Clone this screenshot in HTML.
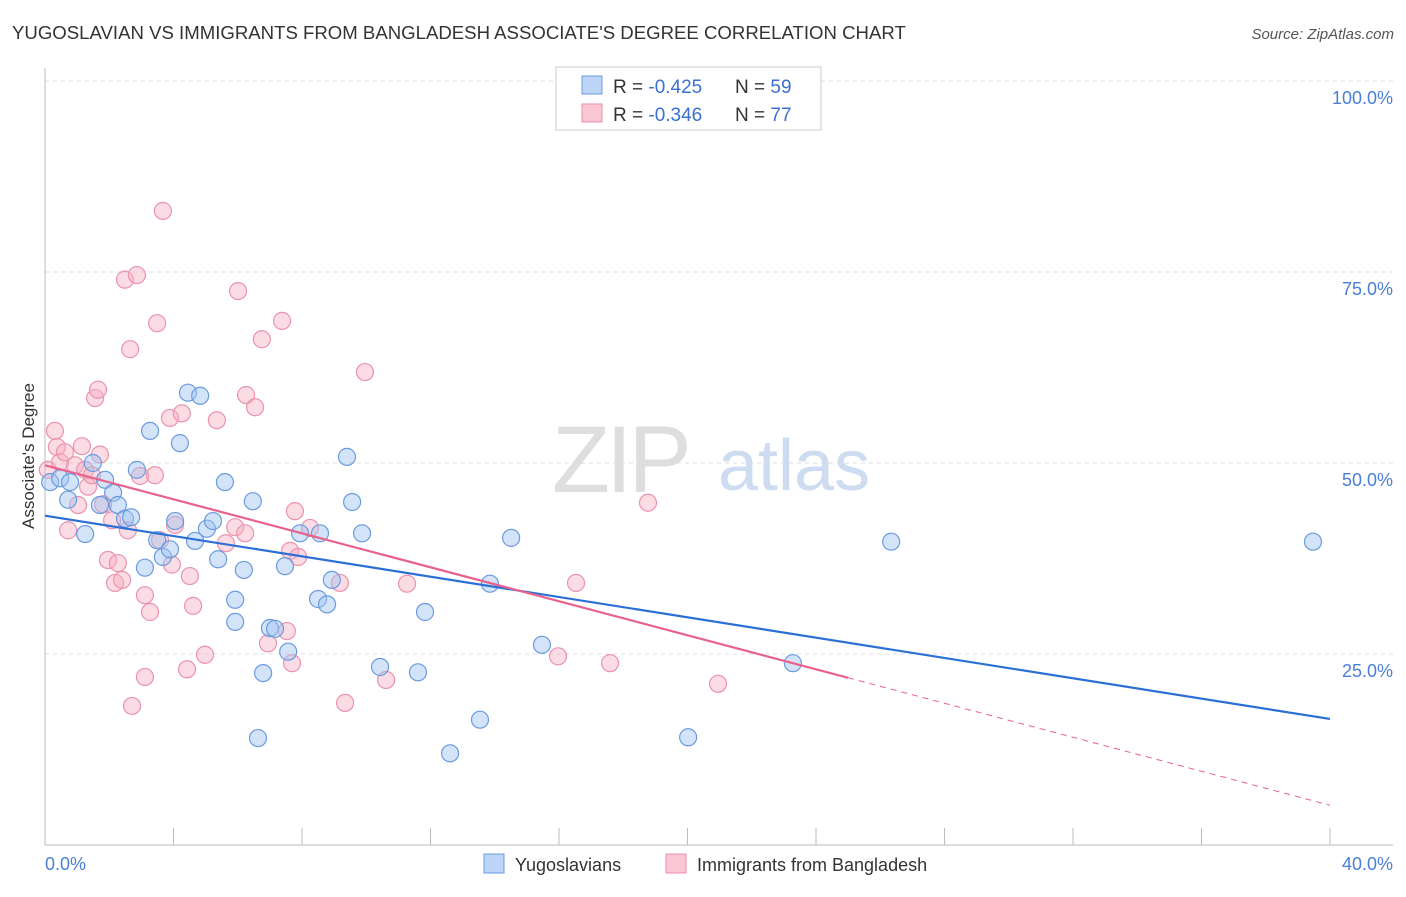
<!DOCTYPE html>
<html><head><meta charset="utf-8"><style>
body{margin:0;background:#fff;font-family:"Liberation Sans",sans-serif}
svg text{font-family:"Liberation Sans",sans-serif}
</style></head><body>
<svg id="chart" width="1406" height="892" xmlns="http://www.w3.org/2000/svg">
<text x="12" y="39" font-size="18.6" fill="#333">YUGOSLAVIAN VS IMMIGRANTS FROM BANGLADESH ASSOCIATE'S DEGREE CORRELATION CHART</text>
<text x="1394" y="39" font-size="15" fill="#555" text-anchor="end" font-style="italic">Source: ZipAtlas.com</text>
<g>
<text x="552" y="492" font-size="95" fill="#dedede" font-family="Liberation Serif" letter-spacing="-4">ZIP</text>
<text x="718" y="490" font-size="72" fill="#cddcf0">atlas</text>
</g>
<g id="grid"></g>
<g id="axes"></g>
<text transform="translate(34,456) rotate(-90)" font-size="17" fill="#333" text-anchor="middle">Associate's Degree</text>
<g id="pts"></g>
<g id="lines"></g>
<g>
<rect x="556" y="67" width="265" height="63" fill="#fff" stroke="#ccc"/>
<rect x="582" y="76" width="20" height="18" fill="#bcd4f5" stroke="#6a9be0"/>
<rect x="582" y="104" width="20" height="18" fill="#f9c6d4" stroke="#ea8fab"/>
<text x="613" y="93" font-size="19" fill="#333">R = <tspan fill="#3a70d0">-0.425</tspan></text>
<text x="735" y="93" font-size="19" fill="#333">N = <tspan fill="#3a70d0">59</tspan></text>
<text x="613" y="121" font-size="19" fill="#333">R = <tspan fill="#3a70d0">-0.346</tspan></text>
<text x="735" y="121" font-size="19" fill="#333">N = <tspan fill="#3a70d0">77</tspan></text>
</g>
<g>
<rect x="484" y="854" width="20" height="19" fill="#bcd4f5" stroke="#6a9be0"/>
<text x="515" y="871" font-size="18" fill="#333">Yugoslavians</text>
<rect x="666" y="854" width="20" height="19" fill="#f9c6d4" stroke="#ea8fab"/>
<text x="697" y="871" font-size="18" fill="#333">Immigrants from Bangladesh</text>
</g>
</svg>
<script>
const yTicks=[25,50,75,100];
const yTickLabels=["25.0%","50.0%","75.0%","100.0%"];
const xTickLabels=["0.0%","40.0%"];
const blueX=[0.16,0.47,0.78,1.49,0.72,1.25,1.71,1.87,2.12,2.27,2.49,2.68,2.86,3.27,3.11,3.49,3.67,3.89,4.05,4.20,4.45,4.83,4.67,5.04,5.23,5.39,5.60,5.92,5.92,6.19,6.47,6.63,6.79,7.00,7.16,7.47,7.57,7.94,8.50,8.56,8.78,8.93,9.40,9.56,9.87,10.43,11.61,11.83,12.61,13.54,13.85,14.51,15.47,20.02,23.28,26.34,39.47];
const blueY=[47.5,48.0,47.5,50.0,45.2,40.7,44.5,47.8,46.1,44.5,42.7,42.9,49.1,54.2,36.3,39.9,37.7,38.7,42.4,52.6,59.2,58.8,39.8,41.4,42.4,37.4,47.5,32.1,29.2,36.0,45.0,14.0,22.5,28.4,28.3,36.5,25.3,40.8,32.2,40.8,31.5,34.7,50.8,44.9,40.8,23.3,22.6,30.5,12.0,16.4,34.2,40.2,26.2,14.1,23.8,39.7,39.7];
const pinkX=[0.09,0.31,0.37,0.47,0.62,0.72,0.93,1.03,1.15,1.25,1.34,1.46,1.56,1.65,1.71,1.81,1.96,2.09,2.27,2.18,2.40,2.49,2.58,2.65,2.71,2.86,2.96,3.11,3.11,3.27,3.42,3.49,3.67,3.58,3.89,3.95,4.05,4.26,4.42,4.51,4.61,4.98,5.35,5.63,5.92,6.01,6.23,6.26,6.54,6.75,6.94,7.38,7.53,7.69,7.78,7.63,7.88,8.25,9.18,9.34,9.96,10.62,11.27,15.97,16.53,17.59,18.77,20.95];
const pinkY=[49.1,54.2,52.1,50.1,51.4,41.2,49.7,44.5,52.2,49.1,46.9,48.4,58.5,59.6,51.1,44.6,37.3,42.5,36.9,34.3,34.7,74.0,41.2,64.9,18.2,74.6,48.3,32.7,22.0,30.5,48.4,68.3,83.0,39.9,55.9,36.7,41.9,56.5,23.0,35.2,31.3,24.9,55.6,39.5,41.6,72.5,40.8,58.9,57.3,66.2,26.4,68.6,28.0,23.8,43.7,38.5,37.7,41.5,34.3,18.6,61.9,21.6,34.2,24.7,34.3,23.8,44.8,21.1];
const blueTrend=[43.1,16.5];
const pinkTrend=[49.7,5.2];
const pinkSolidEnd=25;
const NS="http://www.w3.org/2000/svg";
const X=v=>45+v/40*1285, Y=v=>845-v*7.64;
function mk(p,t,a){const e=document.createElementNS(NS,t);for(const k in a)e.setAttribute(k,a[k]);p.appendChild(e);return e;}
const g=document.getElementById('grid'),ax=document.getElementById('axes');
yTicks.forEach((t,i)=>{
 const l=mk(g,'line',{x1:45,x2:1393,y1:Y(t),y2:Y(t),stroke:'#ddd','stroke-dasharray':'4,4'});
 
 
 const tx=mk(ax,'text',{x:1393,y:Y(t)+23,'font-size':18,fill:'#4a7fd4','text-anchor':'end'});
 tx.textContent=yTickLabels[i];
 
 
});
mk(ax,'line',{x1:45,x2:45,y1:68,y2:845,stroke:'#bbb'});
mk(ax,'line',{x1:45,x2:1393,y1:845,y2:845,stroke:'#bbb'});
for(let i=0;i<=10;i++){const t=mk(ax,'line',{x1:X(i*4),x2:X(i*4),y1:828,y2:845,stroke:'#bbb'});
 
 }
const xl0=mk(ax,'text',{x:45,y:870,'font-size':18,fill:'#4a7fd4'});xl0.textContent=xTickLabels[0];

const xl1=mk(ax,'text',{x:1393,y:870,'font-size':18,fill:'#4a7fd4','text-anchor':'end'});xl1.textContent=xTickLabels[1];

const pg=document.getElementById('pts');


pinkX.forEach((x,i)=>{const c=mk(pg,'circle',{cx:X(x),cy:Y(pinkY[i]),r:8.5,fill:'rgba(246,175,196,0.45)',stroke:'#eb93ae','stroke-width':1.2});
 
 });
blueX.forEach((x,i)=>{const c=mk(pg,'circle',{cx:X(x),cy:Y(blueY[i]),r:8.5,fill:'rgba(160,195,240,0.45)',stroke:'#6a9be0','stroke-width':1.2});
 
 });
const lg=document.getElementById('lines');
const py=v=>pinkTrend[0]+(pinkTrend[1]-pinkTrend[0])*v/40;
const b=mk(lg,'line',{x1:X(0),y1:Y(blueTrend[0]),x2:X(40),y2:Y(blueTrend[1]),stroke:'#2a6fd6','stroke-width':2.2});


const p=mk(lg,'line',{x1:X(0),y1:Y(py(0)),x2:X(pinkSolidEnd),y2:Y(py(pinkSolidEnd)),stroke:'#e8628d','stroke-width':2.2});


const pd=mk(lg,'line',{x1:X(pinkSolidEnd),y1:Y(py(pinkSolidEnd)),x2:X(40),y2:Y(py(40)),stroke:'#e8628d','stroke-width':1,'stroke-dasharray':'6,5'});


</script>
</body></html>
